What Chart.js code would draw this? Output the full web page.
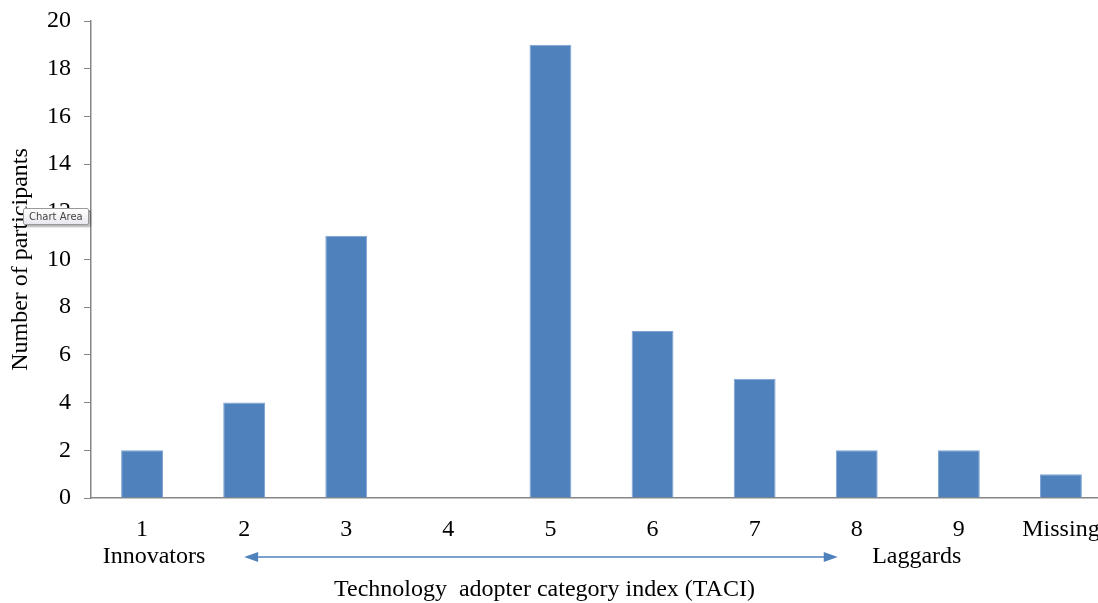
<!DOCTYPE html>
<html>
<head>
<meta charset="utf-8">
<script src="https://cdn.jsdelivr.net/npm/chart.js@4/dist/chart.umd.min.js"></script>
<style>
  html,body{margin:0;padding:0;background:#fff;overflow:hidden;}
  #wrap{position:relative;width:1120px;height:603px;}
  #tip{position:absolute;left:23px;top:208px;padding:2px 5px;font:10px "DejaVu Sans",sans-serif;color:#444;
       background:linear-gradient(#fff,#e8e8ef);border:1px solid #9a9a9a;border-radius:2px;box-shadow:2px 2px 2px rgba(0,0,0,0.3);}
</style>
</head>
<body>
<div id="wrap">
  <canvas id="taciChart" width="1120" height="603"></canvas>
  <div id="tip">Chart Area</div>
</div>
<script>
// TACI categories and participant counts
const categories = ["1","2","3","4","5","6","7","8","9","Missing"];
const participants = [2,4,11,0,19,7,5,2,2,1];
const yMax = 20;
const yStep = 2;
const endLabels = {left:"Innovators", right:"Laggards"};
const xTitle = "Technology  adopter category index (TACI)";

const serif = "'Liberation Serif','Times New Roman',serif";
const axisGrey = "#868686";
const barBlue = "#4F81BD";

// draws Innovators / Laggards, the double arrow and the x title under the ticks
const adopterArrow = {
  id:"adopterArrow",
  afterDraw(chart){
    const x = chart.scales.x;
    const ctx = chart.ctx;
    const y = 557;
    ctx.save();
    ctx.font = "24px " + serif;
    ctx.fillStyle = "#000";
    ctx.textAlign = "center";
    ctx.textBaseline = "middle";
    ctx.fillText(endLabels.left, x.getPixelForValue(0) + 12, y);
    ctx.fillText(endLabels.right, (x.getPixelForValue(7) + x.getPixelForValue(8)) / 2 + 9, y);
    ctx.fillText(xTitle, x.getPixelForValue(4) - 6, 590);

    const x0 = x.getPixelForValue(1);
    const x1 = x.getPixelForValue(7) - 19;
    ctx.strokeStyle = barBlue;
    ctx.fillStyle = barBlue;
    ctx.lineWidth = 1.5;
    ctx.beginPath();
    ctx.moveTo(x0 + 10, y);
    ctx.lineTo(x1 - 10, y);
    ctx.stroke();
    ctx.beginPath();
    ctx.moveTo(x0, y); ctx.lineTo(x0 + 14, y - 5); ctx.lineTo(x0 + 14, y + 5); ctx.closePath();
    ctx.fill();
    ctx.beginPath();
    ctx.moveTo(x1, y); ctx.lineTo(x1 - 14, y - 5); ctx.lineTo(x1 - 14, y + 5); ctx.closePath();
    ctx.fill();
    ctx.restore();
  }
};

new Chart(document.getElementById("taciChart").getContext("2d"), {
  type:"bar",
  data:{
    labels:categories,
    datasets:[{
      data:participants,
      backgroundColor:barBlue,
      borderColor:"#7ea3d3",
      borderWidth:1,
      categoryPercentage:1,
      barPercentage:0.41
    }]
  },
  options:{
    responsive:false,
    animation:false,
    layout:{padding:{top:21,right:8,left:0,bottom:0}},
    plugins:{legend:{display:false},tooltip:{enabled:false}},
    scales:{
      x:{
        grid:{display:false,drawTicks:false},
        border:{color:axisGrey,width:1.5},
        ticks:{color:"#000",font:{family:serif,size:24},padding:17,maxRotation:0,autoSkip:false},
        afterFit(scale){ scale.height = 105; }
      },
      y:{
        min:0,max:yMax,
        grid:{drawOnChartArea:false,drawTicks:true,tickLength:7,color:axisGrey},
        border:{color:axisGrey,width:1.5},
        ticks:{stepSize:yStep,color:"#000",font:{family:serif,size:24},padding:13},
        title:{display:true,text:"Number of participants",color:"#000",
               font:{family:serif,size:24},padding:{top:6,bottom:0}},
        afterFit(scale){ scale.width = 91; scale.paddingTop = 0; scale.paddingBottom = 0; }
      }
    }
  },
  plugins:[adopterArrow]
});
</script>
</body>
</html>
